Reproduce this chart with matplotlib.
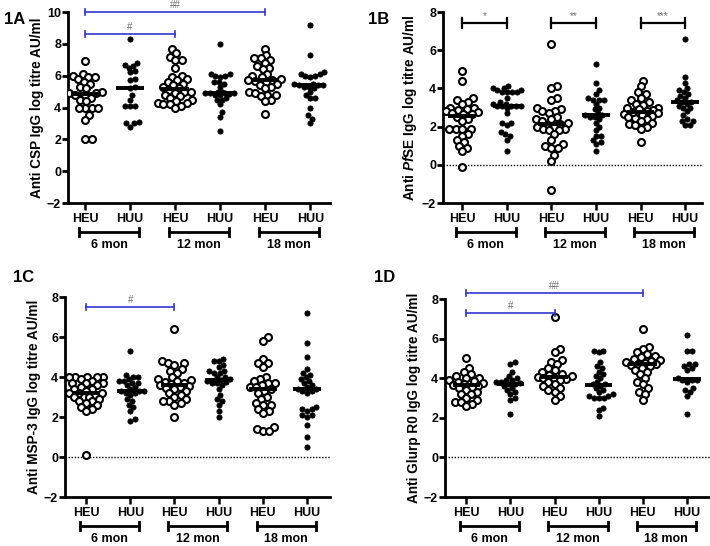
import numpy as np
import matplotlib
matplotlib.use('Agg')
import matplotlib.pyplot as plt
from matplotlib.transforms import blended_transform_factory

plt.rcParams['font.family'] = ['Liberation Sans', 'DejaVu Sans']
plt.rcParams['font.weight'] = 'bold'
plt.rcParams['mathtext.fontset'] = 'custom'
plt.rcParams['mathtext.it'] = 'Liberation Sans:italic:bold'
plt.rcParams['mathtext.rm'] = 'Liberation Sans:bold'

# --- Data ---
groups = ['HEU', 'HUU', 'HEU', 'HUU', 'HEU', 'HUU']
ages = ['6 mon', '12 mon', '18 mon']

csp = [
    [6.9, 6.1, 6.0, 5.9, 5.9, 5.8, 5.6, 5.5, 5.3, 5.2, 5.0, 4.9, 4.9, 4.8, 4.8, 4.6, 4.5, 4.4,
     4.0, 4.0, 4.0, 4.0, 3.5, 3.2, 2.0, 2.0],
    [8.3, 6.8, 6.7, 6.6, 6.5, 6.3, 6.2, 5.8, 5.7, 5.3, 5.2, 4.8, 4.5, 4.1, 4.1, 4.1, 3.1, 3.0,
     3.0, 2.8],
    [7.7, 7.4, 7.2, 7.0, 7.0, 6.5, 6.0, 5.9, 5.8, 5.7, 5.6, 5.5, 5.4, 5.3, 5.2, 5.1, 5.0, 5.0,
     4.9, 4.8, 4.7, 4.6, 4.5, 4.4, 4.3, 4.3, 4.2, 4.2, 4.1, 4.0],
    [8.0, 6.1, 6.1, 6.0, 6.0, 5.9, 5.6, 5.6, 5.5, 5.3, 5.0, 4.95, 4.9, 4.9, 4.9, 4.9, 4.85, 4.8,
     4.8, 4.6, 4.5, 4.5, 4.2, 3.7, 3.4, 2.5],
    [7.7, 7.3, 7.1, 7.1, 7.0, 6.8, 6.6, 6.5, 6.4, 6.1, 6.0, 5.9, 5.8, 5.75, 5.7, 5.65, 5.6, 5.5,
     5.4, 5.3, 5.2, 5.0, 4.9, 4.8, 4.8, 4.7, 4.5, 4.4, 3.6],
    [9.2, 7.3, 6.2, 6.1, 6.1, 6.0, 6.0, 5.9, 5.5, 5.5, 5.4, 5.4, 5.4, 5.3, 5.3, 5.2, 5.0, 4.8,
     4.6, 4.6, 4.0, 3.5, 3.3, 3.0],
]

pfse = [
    [4.9, 4.4, 3.5, 3.4, 3.3, 3.2, 3.0, 3.0, 2.9, 2.85, 2.8, 2.75, 2.7, 2.68, 2.65, 2.5, 2.4, 2.3,
     1.9, 1.9, 1.9, 1.9, 1.6, 1.5, 1.3, 1.2, 1.0, 0.9, 0.7, -0.1],
    [4.1, 4.0, 4.0, 3.9, 3.9, 3.8, 3.8, 3.8, 3.8, 3.5, 3.3, 3.2, 3.2, 3.1, 3.1, 3.1, 3.1, 3.1,
     3.0, 2.7, 2.2, 2.2, 2.1, 1.7, 1.6, 1.5, 1.3, 0.7],
    [6.3, 4.1, 4.0, 3.5, 3.4, 3.0, 2.9, 2.8, 2.8, 2.7, 2.5, 2.4, 2.4, 2.3, 2.2, 2.15, 2.1, 2.0,
     2.0, 1.9, 1.9, 1.8, 1.8, 1.6, 1.3, 1.1, 1.0, 0.9, 0.9, 0.5, 0.2, -1.3],
    [5.3, 4.3, 3.9, 3.7, 3.5, 3.4, 3.4, 3.4, 3.2, 3.0, 2.9, 2.7, 2.6, 2.6, 2.5, 2.5, 2.4, 2.2,
     2.0, 1.8, 1.5, 1.5, 1.3, 1.2, 1.1, 0.7],
    [4.4, 4.1, 3.8, 3.7, 3.5, 3.4, 3.3, 3.2, 3.15, 3.0, 2.95, 2.9, 2.85, 2.8, 2.7, 2.65, 2.6,
     2.55, 2.5, 2.45, 2.4, 2.3, 2.2, 2.15, 2.1, 2.0, 1.9, 1.2, 2.75],
    [6.6, 4.6, 4.3, 4.0, 3.9, 3.8, 3.7, 3.6, 3.5, 3.4, 3.3, 3.3, 3.2, 3.1, 3.0, 3.0, 2.8, 2.6,
     2.4, 2.3, 2.3, 2.1, 2.1],
]

msp3 = [
    [4.0, 4.0, 4.0, 4.0, 4.0, 3.9, 3.8, 3.7, 3.7, 3.7, 3.6, 3.5, 3.4, 3.4, 3.3, 3.2, 3.2, 3.2,
     3.1, 3.0, 3.0, 3.0, 2.9, 2.8, 2.8, 2.7, 2.6, 2.5, 2.4, 2.3, 0.1],
    [5.3, 4.1, 4.0, 4.0, 3.9, 3.8, 3.8, 3.7, 3.7, 3.6, 3.5, 3.4, 3.3, 3.3, 3.3, 3.2, 3.2, 3.1,
     2.9, 2.8, 2.6, 2.5, 2.3, 1.9, 1.8],
    [6.4, 4.8, 4.7, 4.7, 4.6, 4.4, 4.3, 4.2, 4.0, 3.9, 3.85, 3.8, 3.75, 3.7, 3.65, 3.6, 3.57,
     3.52, 3.47, 3.4, 3.3, 3.2, 3.1, 3.0, 2.9, 2.8, 2.8, 2.7, 2.6, 2.0],
    [4.9, 4.8, 4.8, 4.6, 4.5, 4.3, 4.3, 4.2, 4.2, 4.0, 4.0, 3.9, 3.75, 3.85, 3.7, 3.68, 3.6, 3.4,
     3.1, 2.9, 2.8, 2.6, 2.3, 2.0, 3.8],
    [6.0, 5.8, 4.9, 4.7, 4.7, 4.5, 4.0, 3.9, 3.8, 3.7, 3.7, 3.6, 3.5, 3.5, 3.4, 3.3, 3.2, 3.0,
     2.9, 2.7, 2.6, 2.6, 2.4, 2.3, 2.2, 1.5, 1.4, 1.3, 1.3],
    [7.2, 5.7, 5.0, 4.4, 4.2, 4.1, 4.0, 3.9, 3.8, 3.7, 3.6, 3.5, 3.4, 3.4, 3.3, 3.3, 3.2, 2.5,
     2.4, 2.4, 2.3, 2.1, 2.1, 2.0, 1.6, 1.0, 0.5],
]

glurp = [
    [5.0, 4.5, 4.3, 4.2, 4.1, 4.0, 4.0, 3.9, 3.85, 3.8, 3.75, 3.7, 3.66, 3.62, 3.57, 3.5, 3.4,
     3.3, 3.2, 3.2, 3.0, 2.9, 2.8, 2.8, 2.7, 2.6],
    [4.8, 4.7, 4.3, 4.1, 4.0, 3.9, 3.9, 3.8, 3.8, 3.75, 3.7, 3.7, 3.6, 3.5, 3.4, 3.3, 3.2, 3.0,
     2.9, 2.2],
    [7.1, 5.5, 5.3, 4.9, 4.8, 4.7, 4.5, 4.4, 4.3, 4.2, 4.15, 4.1, 4.05, 4.02, 4.0, 3.97, 3.9,
     3.8, 3.7, 3.6, 3.5, 3.4, 3.3, 3.1, 2.9],
    [5.4, 5.4, 5.3, 4.8, 4.6, 4.5, 4.3, 4.2, 4.1, 4.0, 3.8, 3.7, 3.7, 3.6, 3.5, 3.4, 3.3, 3.2,
     3.1, 3.1, 3.0, 3.0, 3.0, 2.5, 2.4, 2.1],
    [6.5, 5.6, 5.5, 5.3, 5.2, 5.1, 5.05, 4.98, 4.92, 4.87, 4.82, 4.78, 4.73, 4.7, 4.66, 4.6,
     4.5, 4.4, 4.3, 4.2, 4.0, 3.8, 3.7, 3.5, 3.3, 3.2, 2.9],
    [6.2, 5.4, 5.4, 4.7, 4.7, 4.6, 4.5, 4.4, 4.0, 3.9, 3.9, 3.9, 3.8, 3.5, 3.4, 3.3, 3.1, 2.2],
]

# --- Panel layout ---
panels = [
    dict(tag='1A', data=csp, pos=[0.0958, 0.6282, 0.369, 0.3498], ylim=(-2, 10),
         xlim=(-0.38, 5.44), ylabel='Anti CSP IgG log titre AU/ml', zero=False,
         sig=[(0, 4, 10.0, '##', 'blue'), (0, 2, 8.6, '#', 'blue')]),
    dict(tag='1B', data=pfse, pos=[0.624, 0.6282, 0.3648, 0.3498], ylim=(-2, 8),
         xlim=(-0.43, 5.38), ylabel=r'Anti $Pf$SE IgG log titre AU/ml', zero=True,
         sig=[(0, 1, 7.4, '*', 'black'), (2, 3, 7.4, '**', 'black'), (4, 5, 7.4, '***', 'black')]),
    dict(tag='1C', data=msp3, pos=[0.0915, 0.0897, 0.3732, 0.3663], ylim=(-2, 8),
         xlim=(-0.48, 5.52), ylabel='Anti MSP-3 IgG log titre AU/ml', zero=True,
         sig=[(0, 2, 7.5, '#', 'blue')]),
    dict(tag='1D', data=glurp, pos=[0.6268, 0.0897, 0.3732, 0.3626], ylim=(-2, 8),
         xlim=(-0.48, 5.52), ylabel='Anti Glurp R0 IgG log titre AU/ml', zero=True,
         sig=[(0, 4, 8.3, '##', 'blue'), (0, 2, 7.3, '#', 'blue')]),
]
tag_pos = {'1A': (0.005, 0.978), '1B': (0.518, 0.978), '1C': (0.018, 0.505), '1D': (0.527, 0.505)}


def swarm(ax, x0, vals, diam, maxw=17):
    # simple beeswarm in pixel space, offsets capped at maxw pixels
    vals = np.asarray(vals, dtype=float)
    pts = ax.transData.transform(np.column_stack([np.full(len(vals), x0), vals]))
    placed = []
    offs = np.zeros(len(vals))
    for i in np.argsort(vals):
        py = pts[i, 1]
        cands = [0.0]
        for qx, qy in placed:
            dy = py - qy
            if abs(dy) < diam:
                w = np.sqrt(diam ** 2 - dy ** 2)
                cands += [qx + w, qx - w]
        cands.sort(key=abs)
        best = None
        for c in cands:
            if all((c - qx) ** 2 + (py - qy) ** 2 >= diam ** 2 - 1e-6 for qx, qy in placed):
                best = c
                break
        if abs(best) > maxw:
            # too far out: take the inside spot with the least crowding
            grid = np.linspace(-maxw, maxw, 35)
            score = [min([(g - qx) ** 2 + (py - qy) ** 2 for qx, qy in placed]) for g in grid]
            best = grid[int(np.argmax(score))]
        placed.append((best, py))
        offs[i] = best
    back = ax.transData.inverted().transform(np.column_stack([pts[:, 0] + offs, pts[:, 1]]))
    return back[:, 0]


fig = plt.figure(figsize=(7.1, 5.46), dpi=100)
for p in panels:
    ax = fig.add_axes(p['pos'])
    ax.set_xlim(*p['xlim'])
    ax.set_ylim(*p['ylim'])
    for s in ['top', 'right']:
        ax.spines[s].set_visible(False)
    for s in ['left', 'bottom']:
        ax.spines[s].set_linewidth(2)
    ax.set_yticks(np.arange(p['ylim'][0], p['ylim'][1] + 1, 2))
    ax.tick_params(axis='y', width=2, length=4, labelsize=9, pad=1)
    ax.set_xticks(range(6))
    ax.set_xticklabels(groups)
    ax.tick_params(axis='x', width=1.8, length=5, labelsize=9, pad=2)
    ax.set_ylabel(p['ylabel'], fontsize=9.8, fontweight='bold', labelpad=2)
    if p['zero']:
        ax.axhline(0, color='black', linestyle=(0, (1, 1.2)), linewidth=1.0, zorder=1)

    for i, vals in enumerate(p['data']):
        open_marker = (i % 2 == 0)
        diam = 6.4 if open_marker else 5.0
        xs = swarm(ax, i, vals, diam)
        if open_marker:
            ax.plot(xs, vals, 'o', ms=5.0, mfc='white', mec='black', mew=1.5, zorder=3)
        else:
            ax.plot(xs, vals, 'o', ms=3.8, mfc='black', mec='black', mew=0.5, zorder=3)
        med = np.median(vals)
        ax.plot([i - 0.31, i + 0.31], [med, med], color='black', lw=2.8, zorder=4,
                solid_capstyle='butt')

    # significance bars
    ypx = (p['ylim'][1] - p['ylim'][0]) / ax.bbox.height
    for a, b, y, lab, col in p['sig']:
        c = '#3434d0' if col == 'blue' else 'black'
        lw = 1.2 if col == 'blue' else 1.6
        cap = (3 if col == 'blue' else 5) * ypx
        ax.plot([a, b], [y, y], color=c, lw=lw, clip_on=False, zorder=5)
        ax.plot([a, a], [y - cap, y + cap], color=c, lw=lw, clip_on=False, zorder=5)
        ax.plot([b, b], [y - cap, y + cap], color=c, lw=lw, clip_on=False, zorder=5)
        ax.text((a + b) / 2, y + 2 * ypx, lab, color='#707070', fontsize=7, fontweight='normal',
                ha='center', va='bottom', clip_on=False)

    # age brackets below axis
    tr = blended_transform_factory(ax.transData, ax.transAxes)
    h = ax.bbox.height
    yb = -29 / h
    cp = 4 / h
    for k, age in enumerate(ages):
        x1, x2 = 2 * k - 0.14, 2 * k + 1 + 0.2
        ax.plot([x1, x2], [yb, yb], color='black', lw=2, transform=tr, clip_on=False)
        ax.plot([x1, x1], [yb - cp, yb + cp], color='black', lw=2, transform=tr, clip_on=False)
        ax.plot([x2, x2], [yb - cp, yb + cp], color='black', lw=2, transform=tr, clip_on=False)
        ax.text((x1 + x2) / 2, -42 / h, age, transform=tr, ha='center', va='center',
                fontsize=9, fontweight='bold')

    tx, ty = tag_pos[p['tag']]
    fig.text(tx, ty, p['tag'], fontsize=12, fontweight='bold', ha='left', va='top')

fig.savefig('out.png', dpi=100)
